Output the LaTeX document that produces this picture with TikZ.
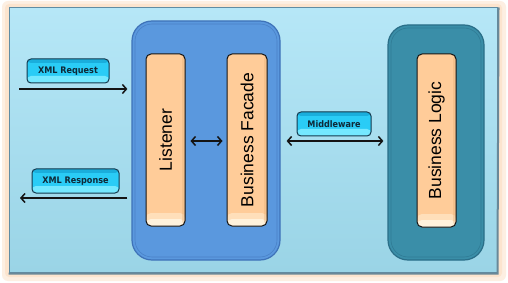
\documentclass[tikz,border=0pt]{standalone}
\usepackage{fontspec}
\setmainfont{Liberation Sans}
\newfontfamily\labelfont{DejaVu Sans Condensed Bold}
\usetikzlibrary{arrows.meta}
\definecolor{glow}{HTML}{FCE4CE}
\definecolor{bgtop}{HTML}{B6E7F7}
\definecolor{bgbot}{HTML}{9AD4E6}
\definecolor{frameline}{HTML}{5F8CA3}
\definecolor{webblue}{HTML}{5A98DE}
\definecolor{webline}{HTML}{3E72B8}
\definecolor{teal}{HTML}{3A8EA8}
\definecolor{tealline}{HTML}{2A6E88}
\definecolor{peach}{HTML}{FFCC99}
\definecolor{peachlight}{HTML}{FFF2DC}
\definecolor{tagbase}{HTML}{2ACCF6}
\definecolor{taglight}{HTML}{74E8FF}
\definecolor{tagdark}{HTML}{1AAEDC}
\definecolor{tagline}{HTML}{163A4E}
\definecolor{ink}{HTML}{141414}
\begin{document}
\begin{tikzpicture}[x=1pt,y=-1pt,
  container/.style={draw, line width=1.2pt, rounded corners=20pt, inner sep=0pt},
  layerbox/.style={draw=ink, line width=1pt, rounded corners=5pt, inner sep=0pt,
    fill=peach, minimum width=39pt, minimum height=172pt,
    path picture={
      \fill[peachlight!50!peach] (path picture bounding box.south west) rectangle ([yshift=13pt]path picture bounding box.south east);
      \fill[peachlight] (path picture bounding box.south west) rectangle ([yshift=7pt]path picture bounding box.south east);
      \fill[peach!85!orange!90!black, opacity=0.35] ([xshift=-3pt]path picture bounding box.south east) rectangle (path picture bounding box.north east);
    }},
  layertext/.style={font=\fontsize{17.5}{17.5}\selectfont, rotate=90, text=black},
  tag/.style={draw=tagline, line width=1pt, rounded corners=4pt, inner sep=0pt,
    fill=tagbase, minimum height=24pt,
    path picture={
      \fill[taglight] (path picture bounding box.south west) rectangle ([yshift=7pt]path picture bounding box.south east);
      \fill[tagdark] (path picture bounding box.north west) rectangle ([yshift=-4pt]path picture bounding box.north east);
    },
    font=\labelfont\fontsize{9}{9}\selectfont, text=tagline!70!black},
  flow/.style={draw=ink, line width=1.5pt, -{Straight Barb[length=4pt,width=9pt]}},
  bothflow/.style={draw=ink, line width=1.5pt, {Straight Barb[length=4pt,width=9pt]}-{Straight Barb[length=4pt,width=9pt]}}
]
\useasboundingbox (0,0) rectangle (508,283);
\fill[white] (0,0) rectangle (508,283);
% glow and frame
\fill[glow!60!white, rounded corners=6pt] (2,1) rectangle (506,281);
\fill[glow, rounded corners=4pt] (5,4) rectangle (502,277);
\node[draw=frameline, line width=1pt, inner sep=0pt, minimum width=488pt, minimum height=264pt,
  top color=bgtop, bottom color=bgbot] (frame) at (253,140) {};
\draw[frameline!70!gray, line width=2pt] ([yshift=-1pt]frame.south west) -- ([yshift=-1pt]frame.south east) -- ([xshift=1pt]frame.north east);

% containers
\node[container, draw=webline, fill=webblue, minimum width=148pt, minimum height=239pt] (web) at (206,140.5) {};
\node[draw=webline!60!webblue, line width=0.6pt, rounded corners=17pt, minimum width=142pt, minimum height=233pt, inner sep=0pt] at (206,140.5) {};
\node[container, draw=tealline, fill=teal, minimum width=96pt, minimum height=235pt] (logicbox) at (436,142.5) {};
\node[draw=tealline!60!teal, line width=0.6pt, rounded corners=17pt, minimum width=90pt, minimum height=229pt, inner sep=0pt] at (436,142.5) {};

% layers
\node[layerbox] (listener) at (165.5,140) {};
\node[layertext] at (listener.center) {Listener};
\node[layerbox, minimum width=40pt] (facade) at (247,140) {};
\node[layertext] at (facade.center) {Business Facade};
\node[layerbox, minimum height=173pt] (logic) at (436.5,140.5) {};
\node[layertext] at (logic.center) {Business Logic};

% tags
\node[tag, minimum width=82pt] (req) at (68,71) {XML Request};
\node[tag, minimum width=87pt] (resp) at (75.5,181) {XML Response};
\node[tag, minimum width=74pt] (mid) at (334,124) {Middleware};

% connectors
\coordinate (reqstart) at (19,89);
\coordinate (respend) at (20,198);
\coordinate (midy) at (0,141);
\draw[flow] (reqstart) -- ([xshift=-4pt]web.west |- reqstart);
\draw[flow] ([xshift=-4pt]web.west |- respend) -- (respend);
\draw[bothflow] ([xshift=5pt]listener.east |- midy) -- ([xshift=-4pt]facade.west |- midy);
\draw[bothflow] ([xshift=6pt]web.east |- midy) -- ([xshift=-4pt]logicbox.west |- midy);
\end{tikzpicture}
\end{document}
